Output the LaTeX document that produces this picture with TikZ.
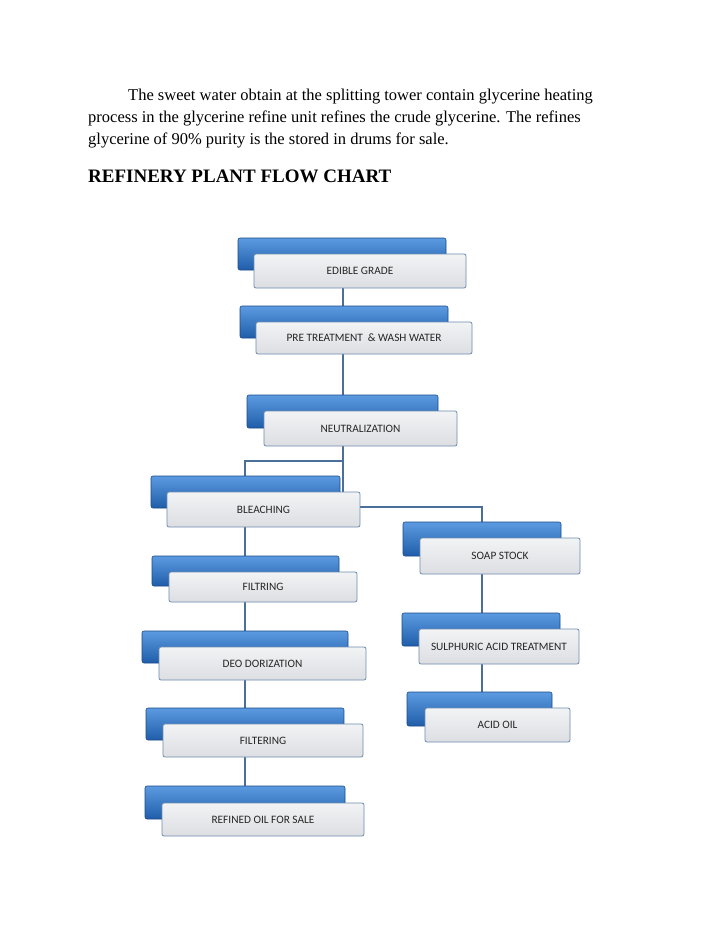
\documentclass[tikz,border=0pt]{standalone}
\usepackage{fontspec}
\setmainfont{Liberation Serif}
\newfontfamily\boxfont{Carlito}
\usetikzlibrary{backgrounds}
\definecolor{lnc}{HTML}{4A6F9A}
\definecolor{bluetop}{HTML}{5C9BE0}
\definecolor{bluebot}{HTML}{1F5DAA}
\definecolor{greytop}{HTML}{F2F3F5}
\definecolor{greybot}{HTML}{DCDEE2}
\tikzset{
 back/.style={rounded corners=2pt,draw=bluebot!80!black,top color=bluetop,bottom color=bluebot,line width=0.6pt},
 front/.style={rounded corners=2pt,draw=lnc!80,top color=greytop,bottom color=greybot,line width=0.8pt,font=\boxfont\fontsize{11.3}{13}\selectfont,text=black!85},
 conn/.style={draw=lnc,line width=2.4pt},
 para/.style={anchor=base west,inner sep=0pt,font=\fontsize{16.5}{22}\selectfont}
}
\begin{document}
\begin{tikzpicture}[x=1pt,y=-1pt]
\useasboundingbox (0,0) rectangle (728,943);
\node[para] (p1) at (128,100) {The sweet water obtain at the splitting tower contain glycerine heating};
\node[para] (p2) at (88,122) {process in the glycerine refine unit refines the crude glycerine. The refines};
\node[para] (p3) at (88,144) {glycerine of 90\% purity is the stored in drums for sale.};
\node[anchor=base west,inner sep=0pt,font=\bfseries\fontsize{19}{22}\selectfont] (hd) at (88,182) {REFINERY PLANT FLOW CHART};
% boxes
\def\mk#1#2#3#4#5#6#7#8#9{%
 \path[back] (#2,#3) rectangle (#4,#5);
 \node[front,minimum width={(#8)-(#6)},minimum height={(#9)-(#7)}, inner sep=0pt] (#1) at ({((#6)+(#8))/2},{((#7)+(#9))/2})}
\mk{g1}{238}{238}{446}{270}{254}{254}{466}{288} {EDIBLE GRADE};
\mk{g2}{240}{306}{448}{338}{256}{322}{472}{354} {PRE TREATMENT \ \& WASH WATER};
\mk{g3}{247}{395}{438}{428}{264}{411}{457}{446} {NEUTRALIZATION};
\mk{g4}{151}{476}{340}{508}{167}{492}{360}{527} {BLEACHING};
\mk{g5}{403}{522}{561}{556}{420}{538}{580}{574} {SOAP STOCK};
\mk{g6}{152}{556}{339}{586}{169}{572}{357}{602} {FILTRING};
\mk{g7}{402}{613}{560}{646}{419}{629}{579}{664} {SULPHURIC ACID TREATMENT};
\mk{g8}{142}{631}{348}{663}{159}{647}{366}{680} {DEO DORIZATION};
\mk{g9}{407}{692}{552}{726}{425}{708}{570}{742} {ACID OIL};
\mk{g10}{146}{708}{344}{740}{163}{724}{363}{757} {FILTERING};
\mk{g11}{145}{786}{345}{819}{162}{803}{364}{836} {REFINED OIL FOR SALE};
\begin{scope}[on background layer]
\fill[white] (0,0) rectangle (728,943);
\coordinate (ja) at (343,461);
\coordinate (jb) at (245,461);
\coordinate (jc) at (482,507);
\draw[conn] (g1.center -| ja) -- (g4.center -| ja);
\draw[conn] (ja) -- (jb) -- (g4.center -| jb);
\draw[conn] (g4.center -| jb) -- (g11.center -| jb);
\draw[conn] (g4.center |- jc) -- (jc) -- (g9.center -| jc);
\end{scope}
\end{tikzpicture}
\end{document}
